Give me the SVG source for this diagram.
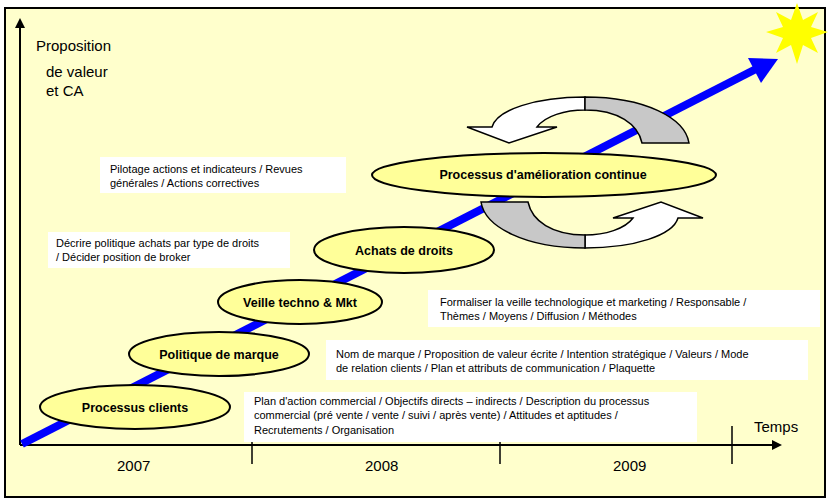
<svg xmlns="http://www.w3.org/2000/svg" width="836" height="504" viewBox="0 0 836 504">
<style>
text{font-family:"Liberation Sans",Arial,sans-serif;fill:#000}
.el{fill:#FFFF99;stroke:#000;stroke-width:2}
.et{font-weight:bold;font-size:12.5px;text-anchor:middle}
.box{fill:#fff}
.bt{font-size:11px}
.ax{font-size:15px}
</style>
<defs>
<marker id="ah" markerWidth="10" markerHeight="10" refX="8" refY="5" orient="auto" markerUnits="userSpaceOnUse"><path d="M0,0 L10,5 L0,10 Z" fill="#000"/></marker>
</defs>
<rect x="5" y="8" width="820" height="489" fill="#FFFFCC" stroke="#000" stroke-width="2"/>
<polygon points="797,3 803,20 818,12 811,27 828,32 811,38 818,53 803,45 797,64 791,45 776,53 783,38 766,32 783,27 776,12 791,20" fill="#FFFF00"/>
<g id="connectors">
<line x1="20" y1="445" x2="20" y2="20" stroke="#000" stroke-width="2" marker-end="url(#ah)"/>
<line x1="20" y1="445" x2="780" y2="445" stroke="#000" stroke-width="2" marker-end="url(#ah)"/>
<line x1="252" y1="436" x2="252" y2="464" stroke="#000" stroke-width="1.5"/>
<line x1="500" y1="436" x2="500" y2="464" stroke="#000" stroke-width="1.5"/>
<line x1="732" y1="426" x2="732" y2="464" stroke="#000" stroke-width="1.5"/>
<line x1="22" y1="444" x2="756" y2="69" stroke="#0000FF" stroke-width="8"/>
<polygon points="748,58 778,59 761,83" fill="#0000FF"/>
</g>
<g id="cycle">
<g id="arrow-top">
<path d="M585,97 C535,97 497,110 492,127 L467,127 L509,143 L557,127 L537,127 C545,116 565,110 585,110 Z" fill="#fff" stroke="#000" stroke-width="1.5"/>
<path d="M585,97 C645,97 685,118 689,143 L642,143 C638,124 618,110 585,110 Z" fill="#C8C8C8" stroke="#000" stroke-width="1.5"/>
</g>
<g id="arrow-bottom" transform="rotate(180 585 172.5)">
<path d="M585,97 C535,97 497,110 492,127 L467,127 L509,143 L557,127 L537,127 C545,116 565,110 585,110 Z" fill="#fff" stroke="#000" stroke-width="1.5"/>
<path d="M585,97 C645,97 685,118 689,143 L642,143 C638,124 618,110 585,110 Z" fill="#C8C8C8" stroke="#000" stroke-width="1.5"/>
</g>
</g>
<g id="n-amelioration"><ellipse class="el" cx="544" cy="175" rx="172" ry="22"/><text class="et" x="543" y="179">Processus d'amélioration continue</text></g>
<g id="n-achats"><ellipse class="el" cx="404" cy="250" rx="90" ry="23"/><text class="et" x="404" y="255">Achats de droits</text></g>
<g id="n-veille"><ellipse class="el" cx="300" cy="302" rx="82" ry="22"/><text class="et" x="300" y="307">Veille techno &amp; Mkt</text></g>
<g id="n-politique"><ellipse class="el" cx="219" cy="354" rx="90" ry="22"/><text class="et" x="219" y="359">Politique de marque</text></g>
<g id="n-clients"><ellipse class="el" cx="135" cy="407" rx="95" ry="22"/><text class="et" x="135" y="412">Processus clients</text></g>
<g id="b-pilotage"><rect class="box" x="100" y="157" width="246" height="36"/><text class="bt" x="110" y="173">Pilotage actions et indicateurs / Revues</text><text class="bt" x="110" y="187">générales / Actions correctives</text></g>
<g id="b-decrire"><rect class="box" x="48" y="232" width="242" height="36"/><text class="bt" x="56" y="247">Décrire politique achats  par  type de droits</text><text class="bt" x="56" y="261">/ Décider position de broker</text></g>
<g id="b-formaliser"><rect class="box" x="428" y="290" width="392" height="37"/><text class="bt" x="440" y="306">Formaliser la veille technologique et marketing / Responsable /</text><text class="bt" x="440" y="320">Thèmes / Moyens / Diffusion / Méthodes</text></g>
<g id="b-marque"><rect class="box" x="326" y="340" width="482" height="40"/><text class="bt" x="336" y="358">Nom de marque / Proposition de valeur écrite / Intention stratégique / Valeurs / Mode</text><text class="bt" x="336" y="372">de relation clients / Plan et attributs de communication / Plaquette</text></g>
<g id="b-plan"><rect class="box" x="244" y="392" width="453" height="50"/><text class="bt" x="254" y="405">Plan d'action commercial / Objectifs directs – indirects / Description du processus</text><text class="bt" x="254" y="419">commercial (pré vente / vente / suivi / après vente) / Attitudes et aptitudes /</text><text class="bt" x="254" y="434">Recrutements / Organisation</text></g>
<g id="labels">
<text class="ax" x="36" y="51">Proposition</text>
<text class="ax" x="46" y="77">de valeur</text>
<text class="ax" x="46" y="96">et CA</text>
<text class="ax" x="754" y="432">Temps</text>
<text class="ax" x="117" y="471">2007</text>
<text class="ax" x="365" y="471">2008</text>
<text class="ax" x="613" y="471">2009</text>
</g>
</svg>
